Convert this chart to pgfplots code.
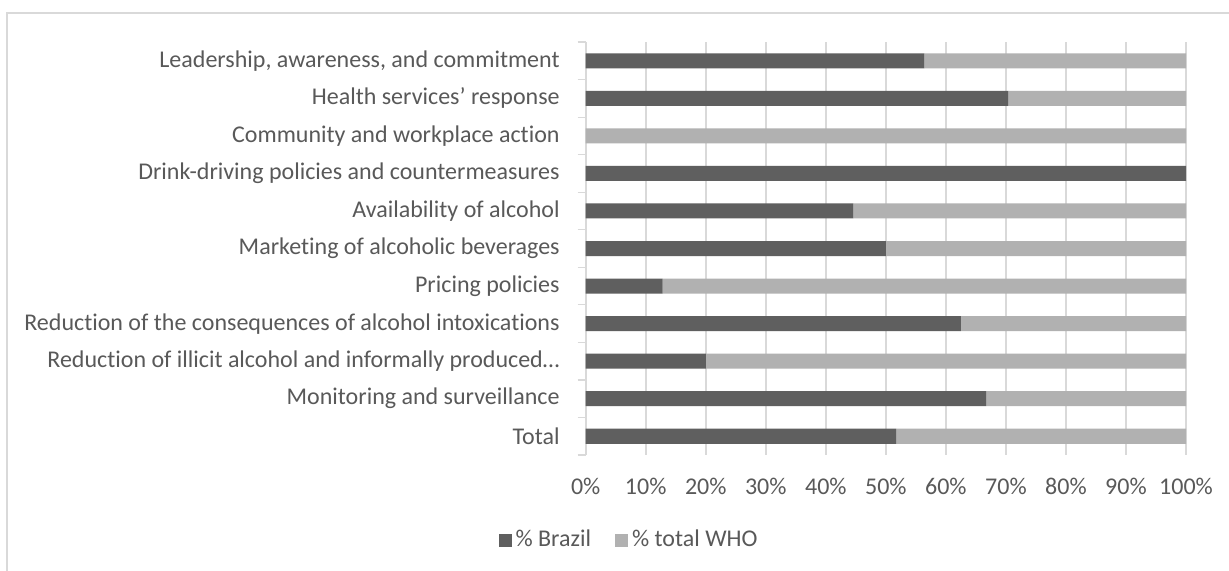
\documentclass[border=0pt]{standalone}
\usepackage{fontspec}
\setmainfont{Carlito}[Ligatures={NoCommon}]
\usepackage{pgfplots}
\pgfplotsset{compat=1.18}
\definecolor{dark}{HTML}{5F5F5F}
\definecolor{light}{HTML}{B1B1B1}
\definecolor{gridc}{HTML}{D9D9D9}
\definecolor{txt}{HTML}{595959}
\pgfplotstableread{
idx brazil who
0 56.4 43.6
1 70.4 29.6
2 0 100
3 100 0
4 44.6 55.4
5 50 50
6 12.8 87.2
7 62.5 37.5
8 20 80
9 66.7 33.3
10 51.7 48.3
}\datatable
\begin{document}
\begin{tikzpicture}[x=0.5pt,y=0.5pt]
\useasboundingbox (0,0) rectangle (1229,570);
\fill[white] (0,0) rectangle (1229,570);
\draw[gridc, line width=0.6pt] (7,557) rectangle (1260,-20);
\begin{axis}[
  at={(292.85pt,57.5pt)}, anchor=south west,
  width=300.15pt, height=206.5pt, scale only axis,
  xbar stacked, bar width=0.4,
  xmin=0, xmax=100, ymin=-0.5, ymax=10.5, y dir=reverse,
  ytick={0,...,10},
  yticklabels={Leadership{,} awareness{,} and commitment,
    Health services’ response,
    Community and workplace action,
    Drink-driving policies and countermeasures,
    Availability of alcohol,
    Marketing of alcoholic beverages,
    Pricing policies,
    Reduction of the consequences of alcohol intoxications,
    Reduction of illicit alcohol and informally produced…,
    Monitoring and surveillance,
    Total\ },
  minor ytick={-0.5,0.5,...,10.5},
  xtick={0,10,...,100},
  xticklabels={0\%,10\%,20\%,30\%,40\%,50\%,60\%,70\%,80\%,90\%,100\%},
  xmajorgrids, grid style={gridc, line width=0.8pt},
  axis line style={draw=none},
  major tick length=0pt, minor tick length=4pt,
  tick align=outside, ytick pos=left, xtick pos=bottom,
  minor tick style={gridc, line width=0.6pt},
  yticklabel style={font=\fontsize{12}{14}\selectfont, text=txt, inner sep=0pt, xshift=-12.85pt},
  xticklabel style={font=\fontsize{12}{14}\selectfont, text=txt, inner sep=0pt, anchor=base, yshift=-19.8pt},
  legend columns=2,
  legend style={at={(0.0738,-0.2058)}, anchor=center, draw=none, fill=none,
    font=\fontsize{12}{14}\selectfont, text=txt,
    /tikz/every even column/.append style={column sep=10pt}},
  legend image code/.code={\fill[#1] (0pt,-3.25pt) rectangle (6.5pt,3.25pt);},
]
\addplot[fill=dark, draw=none] table[x=brazil, y=idx] {\datatable};
\addplot[fill=light, draw=none] table[x=who, y=idx] {\datatable};
\legend{\% Brazil, \% total WHO}
\end{axis}
\end{tikzpicture}
\end{document}
